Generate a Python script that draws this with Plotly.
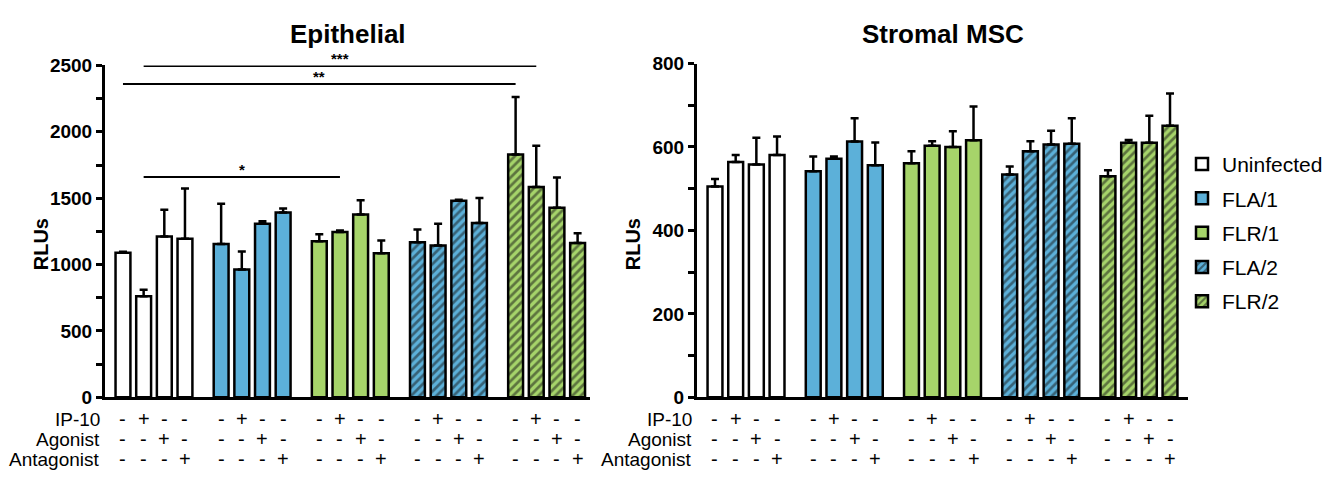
import plotly.graph_objects as go

# ---------------- data ----------------
groups = ["Uninfected", "FLA/1", "FLR/1", "FLA/2", "FLR/2"]
row_labels = ["IP-10", "Agonist", "Antagonist"]
ip10_signs = ["-", "+", "-", "-"]
agonist_signs = ["-", "-", "+", "-"]
antagonist_signs = ["-", "-", "-", "+"]

# Epithelial (RLUs): means and upper error
epi_uninfected = [1088, 762, 1212, 1195]
epi_uninfected_err = [8, 48, 200, 378]
epi_fla1 = [1155, 962, 1307, 1393]
epi_fla1_err = [303, 136, 19, 29]
epi_flr1 = [1175, 1245, 1378, 1085]
epi_flr1_err = [53, 11, 107, 97]
epi_fla2 = [1168, 1143, 1480, 1313]
epi_fla2_err = [96, 165, 8, 189]
epi_flr2 = [1829, 1585, 1428, 1163]
epi_flr2_err = [433, 310, 227, 73]

# Stromal MSC (RLUs)
msc_uninfected = [505, 564, 558, 581]
msc_uninfected_err = [18, 17, 64, 44]
msc_fla1 = [542, 572, 613, 556]
msc_fla1_err = [35, 5, 56, 55]
msc_flr1 = [561, 603, 600, 616]
msc_flr1_err = [29, 11, 38, 81]
msc_fla2 = [534, 590, 606, 608]
msc_fla2_err = [19, 24, 33, 61]
msc_flr2 = [530, 610, 610, 651]
msc_flr2_err = [14, 7, 65, 77]

# significance brackets on Epithelial: (group_a, cond_a, group_b, cond_b, level, label)
epi_sig = [
    (0, 1, 4, 1, 2495, "***"),
    (0, 0, 4, 0, 2361, "**"),
    (0, 1, 2, 1, 1659, "*"),
]

# ---------------- styling ----------------
W, H = 1342, 480
FONT = "Liberation Sans, Arial, Helvetica, sans-serif"
fills = ["#ffffff", "#5cb0d9", "#a6d46a", "#5cb0d9", "#a6d46a"]
hatches = ["", "", "", "/", "/"]
GROUP_PITCH = 4.75
BAR_W = 0.72


def pos(g, i):
    return g * GROUP_PITCH + i


def px_x(p):
    return p / W


def px_y(p):
    return 1 - p / H


panels = [
    dict(means=[epi_uninfected, epi_fla1, epi_flr1, epi_fla2, epi_flr2],
         errs=[epi_uninfected_err, epi_fla1_err, epi_flr1_err, epi_fla2_err, epi_flr2_err],
         xa="x", ya="y", left=105, right=590, top=58, title="Epithelial",
         yrange=[0, 2500], dtick=500, minor=250),
    dict(means=[msc_uninfected, msc_fla1, msc_flr1, msc_fla2, msc_flr2],
         errs=[msc_uninfected_err, msc_fla1_err, msc_flr1_err, msc_fla2_err, msc_flr2_err],
         xa="x2", ya="y2", left=697, right=1188, top=56, title="Stromal MSC",
         yrange=[0, 800], dtick=200, minor=100),
]
BOTTOM = 405
xranges = [[-0.87, 22.6], [-0.87, 22.87]]

fig = go.Figure()
annotations = []
shapes = []

for pi, p in enumerate(panels):
    for g, name in enumerate(groups):
        fig.add_trace(go.Bar(
            x=[pos(g, i) for i in range(4)],
            y=p["means"][g],
            width=BAR_W,
            name=name,
            legendgroup=name,
            showlegend=(pi == 0),
            xaxis=p["xa"], yaxis=p["ya"],
            marker=dict(
                color=fills[g],
                line=dict(color="black", width=2.5),
                pattern=dict(shape=hatches[g], fgcolor="#141414", size=6,
                             solidity=0.45, fillmode="overlay"),
            ),
            error_y=dict(type="data", symmetric=False, array=p["errs"][g],
                         arrayminus=[0] * 4, color="black", thickness=2.5, width=4),
        ))

    # titles
    annotations.append(dict(
        text=p["title"], xref="paper", yref="paper",
        x=px_x((p["left"] + p["right"]) / 2), y=px_y(25),
        xanchor="center", yanchor="middle", showarrow=False,
        font=dict(family=FONT, size=26, color="black", weight="bold")))
    # y-axis title
    annotations.append(dict(
        text="RLUs", xref="paper", yref="paper",
        x=px_x(p["left"] - 64), y=px_y(245), textangle=-90,
        xanchor="center", yanchor="middle", showarrow=False,
        font=dict(family=FONT, size=20, color="black", weight="bold")))
    # condition rows
    row_y = [428, 449, 470]
    for r, (lab, signs) in enumerate(zip(row_labels, [ip10_signs, agonist_signs, antagonist_signs])):
        annotations.append(dict(
            text=lab, xref="paper", yref="paper",
            x=px_x(p["left"] - 3), y=px_y(row_y[r]),
            xanchor="right", yanchor="middle", showarrow=False,
            font=dict(family=FONT, size=19, color="black")))
        for g in range(len(groups)):
            for i in range(4):
                annotations.append(dict(
                    text=signs[i], xref=p["xa"], yref="paper",
                    x=pos(g, i), y=px_y(row_y[r]),
                    xanchor="center", yanchor="middle", showarrow=False,
                    font=dict(family=FONT, size=20, color="black")))

# significance brackets
for ga, ca, gb, cb, lvl, lab in epi_sig:
    shapes.append(dict(type="line", xref="x", yref="y",
                       x0=pos(ga, ca), x1=pos(gb, cb), y0=lvl, y1=lvl,
                       line=dict(color="black", width=2)))
    annotations.append(dict(
        text=lab, xref="x", yref="y", x=(pos(ga, ca) + pos(gb, cb)) / 2, y=lvl,
        xanchor="center", yanchor="bottom", yshift=-3, showarrow=False,
        font=dict(family=FONT, size=15, color="black", weight="bold")))


def yaxis_cfg(p, anchor):
    return dict(
        domain=[px_y(BOTTOM), px_y(p["top"])], range=p["yrange"], anchor=anchor,
        showline=True, linecolor="black", linewidth=3, ticks="outside",
        ticklen=6, tickwidth=3, tickcolor="black", dtick=p["dtick"], tick0=0,
        minor=dict(ticks="outside", ticklen=6, tickwidth=3, tickcolor="black",
                   dtick=p["minor"], tick0=0),
        showgrid=False, zeroline=False, fixedrange=True,
        tickfont=dict(family=FONT, size=19, color="black", weight="bold"))


def xaxis_cfg(p, rng, anchor):
    return dict(
        domain=[px_x(p["left"]), px_x(p["right"])], range=rng, anchor=anchor,
        showline=True, linecolor="black", linewidth=3, ticks="",
        showticklabels=False, showgrid=False, zeroline=False, fixedrange=True)


fig.update_layout(
    width=W, height=H, margin=dict(l=0, r=0, t=0, b=0),
    paper_bgcolor="white", plot_bgcolor="white",
    barmode="overlay",
    xaxis=xaxis_cfg(panels[0], xranges[0], "y"),
    yaxis=yaxis_cfg(panels[0], "x"),
    xaxis2=xaxis_cfg(panels[1], xranges[1], "y2"),
    yaxis2=yaxis_cfg(panels[1], "x2"),
    annotations=annotations, shapes=shapes,
    legend=dict(x=px_x(1182), xanchor="left", y=px_y(140), yanchor="top",
                font=dict(family=FONT, size=21, color="black"),
                tracegroupgap=4, bgcolor="rgba(0,0,0,0)", traceorder="grouped"),
    font=dict(family=FONT, color="black"),
)

fig.write_html("out.html")
